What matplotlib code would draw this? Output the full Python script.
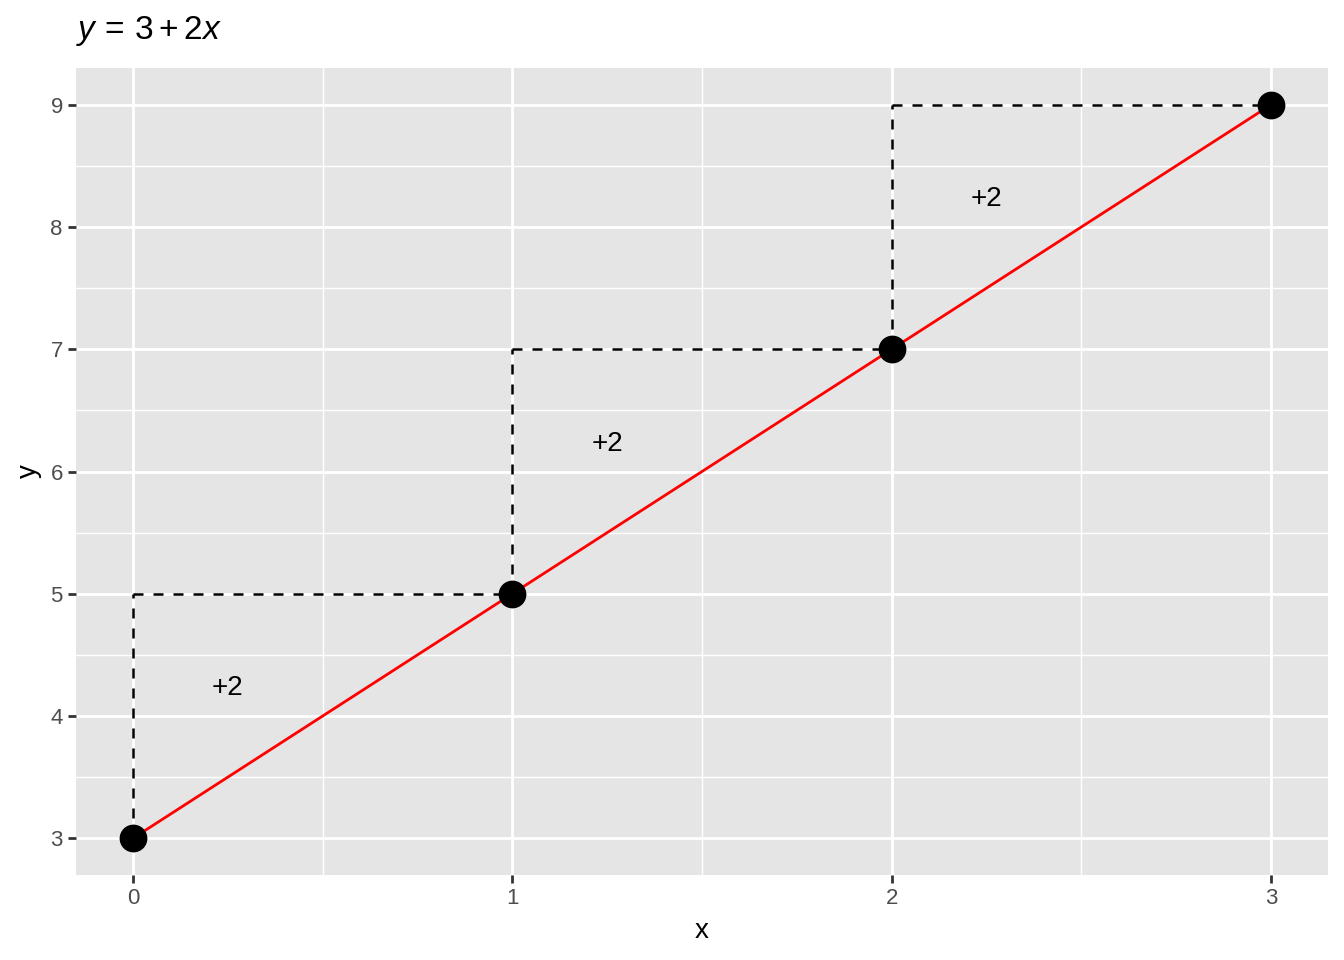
import matplotlib.pyplot as plt

plt.rcParams["font.family"] = ["Liberation Sans", "DejaVu Sans"]
plt.rcParams["mathtext.fontset"] = "custom"
plt.rcParams["mathtext.rm"] = "Liberation Sans"
plt.rcParams["mathtext.it"] = "Liberation Sans:italic"

# data
xs = [0, 1, 2, 3]
ys = [3, 5, 7, 9]
step_labels = ["+2", "+2", "+2"]
x_ticks = [0, 1, 2, 3]
y_ticks = [3, 4, 5, 6, 7, 8, 9]

bg = "#E5E5E5"
tick_col = "#4D4D4D"

fig = plt.figure(figsize=(13.44, 9.6), dpi=100)
ax = fig.add_axes([76 / 1344, 85 / 960, 1252 / 1344, 807 / 960])
ax.set_facecolor(bg)
for s in ax.spines.values():
    s.set_visible(False)

ax.set_xlim(-0.15, 3.15)
ax.set_ylim(2.7, 9.3)
ax.set_xticks(x_ticks)
ax.set_yticks(y_ticks)
ax.set_xticks([0.5, 1.5, 2.5], minor=True)
ax.set_yticks([3.5, 4.5, 5.5, 6.5, 7.5, 8.5], minor=True)
ax.grid(which="major", color="white", linewidth=2.0)
ax.grid(which="minor", color="white", linewidth=1.0)
ax.set_axisbelow(True)
ax.tick_params(which="major", length=5.5, width=2, color="#333333",
               labelsize=16, labelcolor=tick_col, pad=4)
ax.tick_params(which="minor", length=0)

# step lines (dashed)
for i in range(len(xs) - 1):
    ax.plot([xs[i], xs[i]], [ys[i], ys[i + 1]], color="black",
            linestyle=(0, (4, 4)), linewidth=1.8, zorder=2)
    ax.plot([xs[i], xs[i + 1]], [ys[i + 1], ys[i + 1]], color="black",
            linestyle=(0, (4, 4)), linewidth=1.8, zorder=2)
    ax.text(xs[i] + 0.25, ys[i] + 1.25, step_labels[i], fontsize=20,
            ha="center", va="center_baseline", zorder=4)

ax.plot(xs, ys, color="red", linewidth=2, zorder=3)
ax.scatter(xs, ys, s=400, color="black", zorder=5, linewidths=0)

ax.set_xlabel("x", fontsize=20, labelpad=6)
ax.set_ylabel("y", fontsize=20, labelpad=6)
fig.text(76 / 1344, 1 - 31 / 960, r"$y\,=\,3+2x$", fontsize=24,
         ha="left", va="center")

fig.savefig("out.png", dpi=100)
